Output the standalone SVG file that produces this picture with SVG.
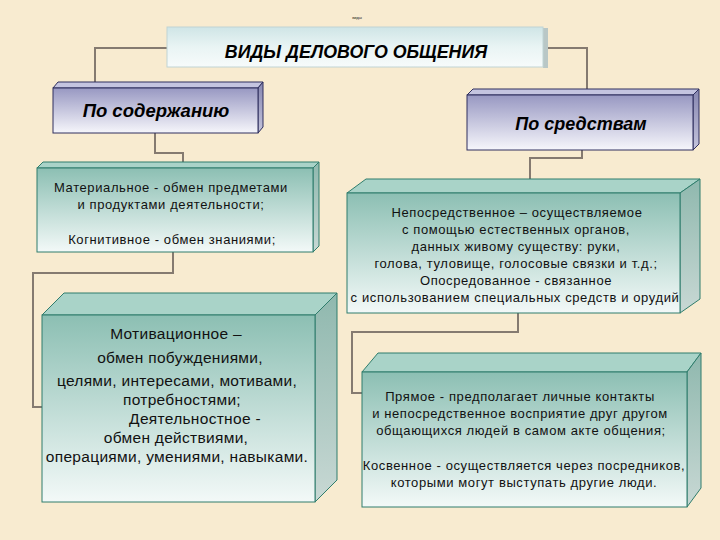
<svg xmlns="http://www.w3.org/2000/svg" width="720" height="540" viewBox="0 0 720 540">
<defs>
<linearGradient id="gT" x1="0" y1="0" x2="0" y2="1"><stop offset="0" stop-color="#cfe5e6"/><stop offset="0.5" stop-color="#e9f4f4"/><stop offset="1" stop-color="#f7fbfb"/></linearGradient>
<linearGradient id="gP" x1="0" y1="0" x2="0" y2="1"><stop offset="0" stop-color="#9898c2"/><stop offset="1" stop-color="#f6f6fb"/></linearGradient>
<linearGradient id="gG" x1="0" y1="0" x2="0" y2="1"><stop offset="0" stop-color="#8cbfb3"/><stop offset="1" stop-color="#f3f9f8"/></linearGradient>
<linearGradient id="gGs" x1="0" y1="0" x2="0" y2="1"><stop offset="0" stop-color="#8fb8ae"/><stop offset="1" stop-color="#c8d8d4"/></linearGradient>
<linearGradient id="gPs" x1="0" y1="0" x2="0" y2="1"><stop offset="0" stop-color="#8686b0"/><stop offset="1" stop-color="#c4c4dc"/></linearGradient>
</defs>
<style>
.bg{fill:#f8ebd0}
.pf{fill:url(#gP);stroke:#2e2e5e;stroke-width:1}
.pt{fill:#c4c4e0;stroke:#2e2e5e;stroke-width:1}
.ps{fill:url(#gPs);stroke:#2e2e5e;stroke-width:1}
.gf{fill:url(#gG);stroke:#2f7d6c;stroke-width:1}
.gt{fill:#a9d3c8;stroke:#2f7d6c;stroke-width:1}
.gs{fill:url(#gGs);stroke:#2f7d6c;stroke-width:1}
.conn path{fill:none;stroke:#857a70;stroke-width:2}
.h{font-family:"Liberation Sans",Arial,sans-serif;font-weight:bold;font-style:italic;fill:#000;text-anchor:middle}
.t{font-family:"Liberation Sans",Arial,sans-serif;fill:#111;text-anchor:middle;font-size:13px;letter-spacing:0.6px}
.m{font-family:"Liberation Sans",Arial,sans-serif;fill:#111;text-anchor:middle;font-size:15.5px;letter-spacing:0.3px}
</style>
<rect class="bg" x="0" y="0" width="720" height="540"/>
<text x="357" y="19" font-family="Liberation Sans, Arial, sans-serif" font-size="4" text-anchor="middle" fill="#111">виды</text>

<g class="conn">
<path d="M167,48 H95 V84"/>
<path d="M543,48 H587 V90"/>
<path d="M155,133 V153 H183 V163"/>
<path d="M582,150 V158 H530 V180"/>
<path d="M173,252 V273 H33 V407 H42"/>
<path d="M518,313 V332 H352 V393 H362"/>
</g>

<g id="title">
<rect x="543" y="28" width="5" height="40" fill="#b9c7c6"/>
<rect x="167" y="27" width="376" height="40" fill="url(#gT)" stroke="#c0d4d4" stroke-width="1"/>
<text class="h" x="356" y="58" font-size="17.8">ВИДЫ ДЕЛОВОГО ОБЩЕНИЯ</text>
</g>

<g id="content">
<polygon class="pt" points="53,88 58,82 263,82 258,88"/>
<polygon class="ps" points="258,88 263,82 263,127 258,133"/>
<rect class="pf" x="53" y="88" width="205" height="45"/>
<text class="h" x="156" y="117" font-size="18.5">По  содержанию</text>
</g>

<g id="means">
<polygon class="pt" points="467,95 473,89 699,89 693,95"/>
<polygon class="ps" points="693,95 699,89 699,144 693,150"/>
<rect class="pf" x="467" y="95" width="226" height="55"/>
<text class="h" x="581" y="130" font-size="18">По средствам</text>
</g>

<g id="material">
<polygon class="gt" points="37,168 43,162 319,162 313,168"/>
<polygon class="gs" points="313,168 319,162 319,246 313,252"/>
<rect class="gf" x="37" y="168" width="276" height="84"/>
<text class="t"><tspan x="171" y="192">Материальное - обмен предметами</tspan><tspan x="171" y="209">и продуктами деятельности;</tspan><tspan x="172" y="244">Когнитивное - обмен знаниями;</tspan></text>
</g>

<g id="direct">
<polygon class="gt" points="347,193 366,179 700,179 680,193"/>
<polygon class="gs" points="680,193 700,179 700,299 680,313"/>
<rect class="gf" x="347" y="193" width="333" height="120"/>
<text class="t"><tspan x="517" y="217">Непосредственное – осуществляемое</tspan><tspan x="516" y="234">с помощью естественных органов,</tspan><tspan x="516" y="251">данных живому существу: руки,</tspan><tspan x="516" y="268">голова, туловище, голосовые связки и т.д.;</tspan><tspan x="516" y="285">Опосредованное - связанное</tspan><tspan x="515" y="302">с использованием специальных средств и орудий</tspan></text>
</g>

<g id="motiv">
<polygon class="gt" points="42,315 64,293 337,293 315,315"/>
<polygon class="gs" points="315,315 337,293 337,480 315,502"/>
<rect class="gf" x="42" y="315" width="273" height="187"/>
<text class="m"><tspan x="176" y="339">Мотивационное –</tspan><tspan x="180" y="363">обмен побуждениями,</tspan><tspan x="177" y="386">целями, интересами, мотивами,</tspan><tspan x="182" y="405">потребностями;</tspan><tspan x="195" y="424">Деятельностное  -</tspan><tspan x="176" y="443">обмен действиями,</tspan><tspan x="177" y="462">операциями, умениями, навыками.</tspan></text>
</g>

<g id="straight">
<polygon class="gt" points="362,372 378,353 701,353 687,372"/>
<polygon class="gs" points="687,372 701,353 701,488 687,507"/>
<rect class="gf" x="362" y="372" width="325" height="135"/>
<text class="t"><tspan x="520" y="401">Прямое - предполагает личные контакты</tspan><tspan x="520" y="418">и непосредственное восприятие друг другом</tspan><tspan x="521" y="435">общающихся людей в самом акте общения;</tspan><tspan x="524" y="470">Косвенное - осуществляется через посредников,</tspan><tspan x="524" y="487">которыми могут выступать другие люди.</tspan></text>
</g>
</svg>
